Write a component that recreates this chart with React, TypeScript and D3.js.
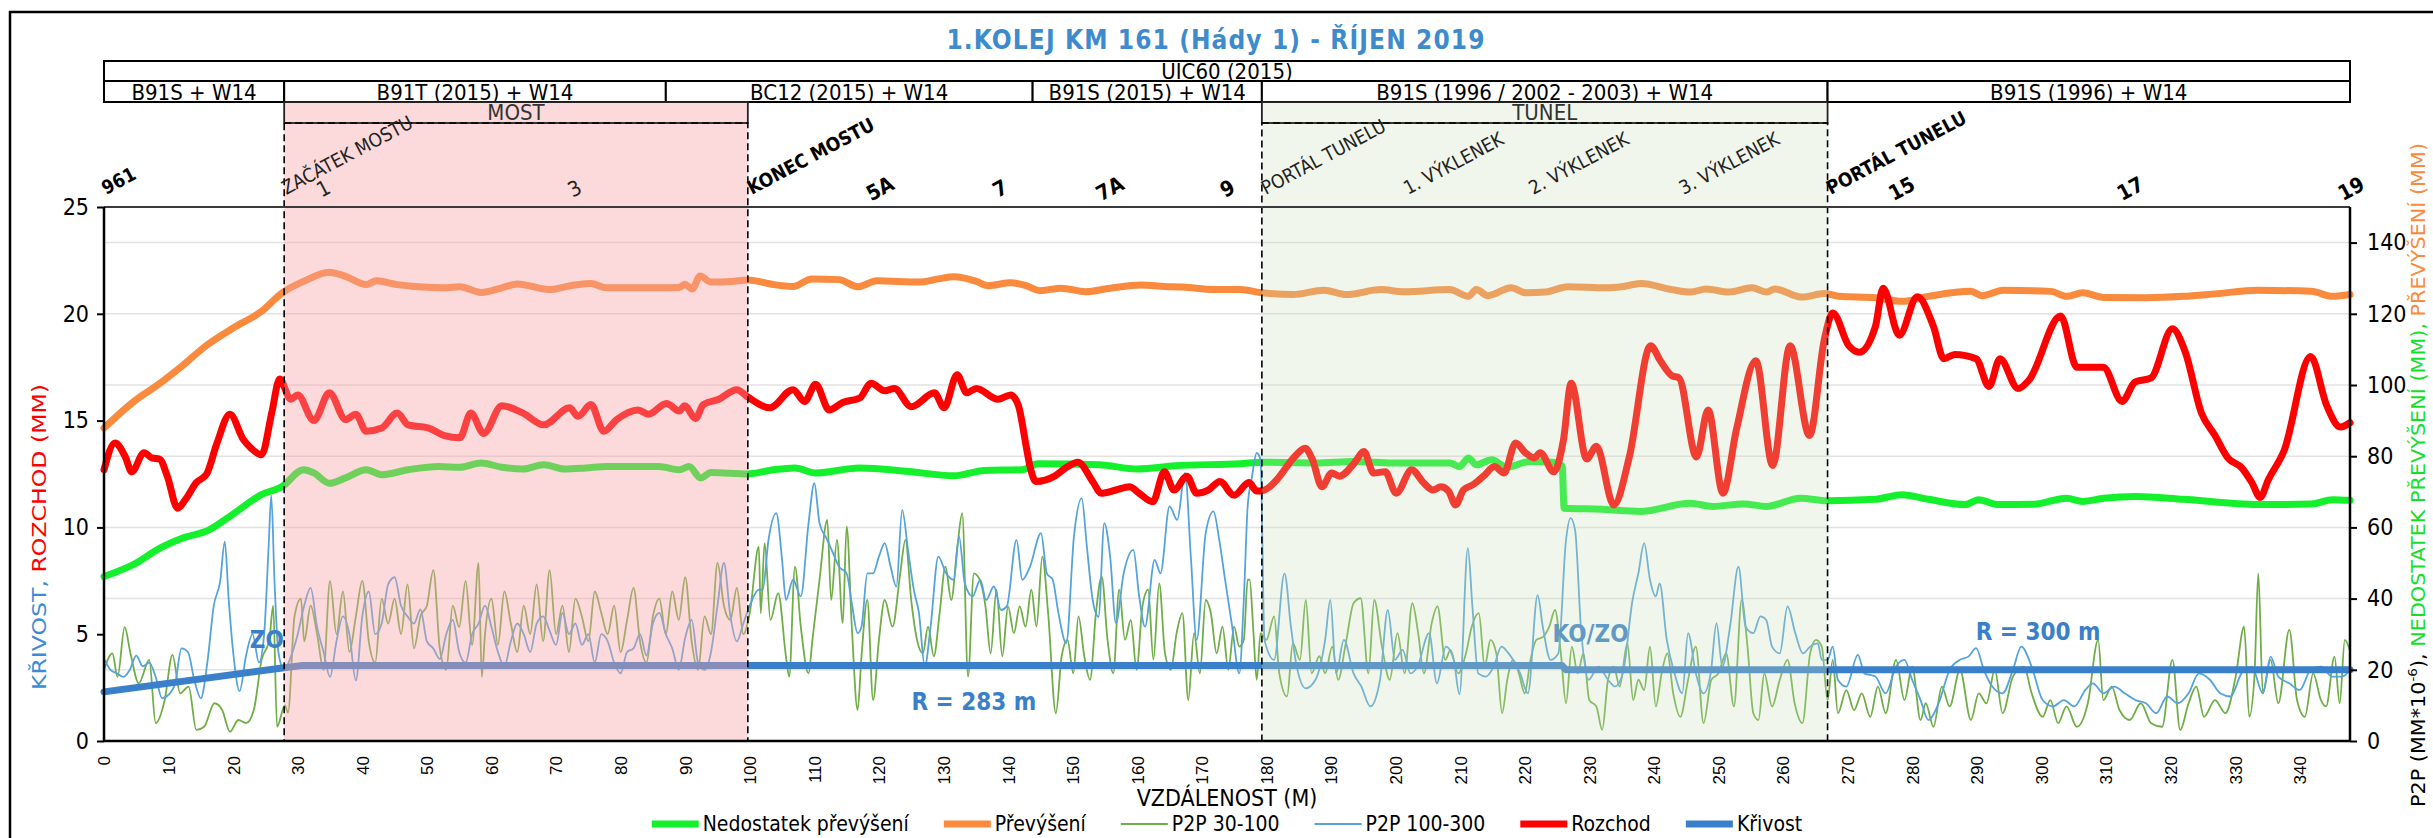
import React, { useEffect, useRef } from 'react';
import * as d3 from 'd3';

const W = 2433;
const H = 838;
const NARROW = "'Liberation Sans Narrow', 'DejaVu Sans Condensed', 'Arial Narrow', sans-serif";
const PLAIN = "'Liberation Sans', Arial, sans-serif";
const WIDE = "'DejaVu Sans', Verdana, sans-serif";

// ---- data (x in metres) ----
const prevyseni = [[0,87.9],[5,95.9],[8,99.6],[12,105.2],[16,111.3],[20,116],[24.4,120.7],[27.6,125.9],[30.9,129.1],[34.9,131.7],[37.3,130.6],[40.6,128.2],[42.2,129.3],[45.4,128.2],[48.7,127.6],[52.7,127.3],[55.1,127.6],[58.4,126],[61.6,127.3],[64,128.4],[68.9,126.8],[72.9,128.1],[75.4,128.5],[77.8,127.3],[81,127.3],[85.1,127.3],[89.1,127.4],[89.9,128.3],[91.1,127],[92.3,130.6],[94,128.9],[97.2,129.1],[99.7,129.5],[103.7,128.2],[106.7,127.7],[109.6,129.8],[113.8,129.6],[116.7,127.6],[119.7,129.3],[126.2,128.9],[129.2,129.8],[131.6,130.4],[135.1,129.1],[136.9,127.9],[140.4,128.7],[142.8,127.9],[144.9,126.5],[148.2,127.2],[152,126.2],[155.8,127.2],[160.6,128.1],[164.2,127.7],[167.1,127.5],[171.9,126.8],[175.9,126.8],[179.4,125.9],[184.1,125.4],[188.9,126.6],[192.4,125.4],[197.7,126.8],[201.3,126.2],[208.4,126.8],[211.3,124.9],[212.5,126.8],[214.3,125.1],[217.9,127.3],[220.2,125.9],[223.2,126.1],[226.7,127.6],[232.7,127.3],[235,127.6],[238,128.5],[242.8,126.8],[245.7,126.1],[248.1,127],[251.6,126.1],[255.2,127.3],[257.5,126.1],[258.7,127],[262.9,124.7],[266.4,125.7],[268.7,124.9],[274.3,124.5],[278.4,123.5],[282.5,124.9],[289.1,126.3],[290.8,125.1],[294.1,126.6],[301.5,126.3],[303.9,124.9],[306.4,125.9],[309.7,124.6],[316.3,124.5],[322,124.9],[326.9,125.6],[333.5,126.6],[341.8,126.3],[345.1,124.9],[347.8,125.4]];

const nedostatek = [[0,46.2],[5,50],[8.2,53.7],[12.2,57],[16.3,59.3],[19.5,63.1],[24.4,69.2],[27.6,71.5],[30.9,76.2],[32.5,75.3],[34.9,72.4],[37.4,73.9],[40.6,76.2],[43,74.8],[47.1,76.2],[51.9,77.1],[55.1,76.9],[58.4,78.1],[61.6,76.9],[64.9,76.4],[68.1,77.6],[71.3,76.4],[74.6,76.7],[77.8,77.1],[81,77.1],[85.9,77.1],[89.1,76.2],[90.6,77.1],[92.4,73.9],[94,75.4],[99.7,75],[103.7,76.2],[107,76.7],[110.2,75.3],[117,76.7],[124.6,75.7],[131.6,74.5],[136.3,76],[142.2,76.2],[144.6,77.9],[154.1,77.6],[160,76.4],[165.9,77.3],[175.9,77.9],[179.4,78.3],[187.7,78.1],[193.6,78.5],[199.5,78.1],[208.4,78.1],[209.9,77.1],[211.3,79.5],[212.5,77.6],[214.9,79],[217.2,76.9],[220.8,78.5],[224.3,78.3],[225.8,77.3],[226.1,65.4],[232,65.1],[237.9,64.5],[245.6,66.8],[249.1,65.9],[253.9,66.6],[257.4,65.9],[262.7,68.2],[266.9,67.5],[274.3,67.9],[278.4,69.2],[282.5,67.9],[288.2,66.4],[290.3,67.8],[293.2,66.4],[298.9,66.5],[303.9,68.2],[306.4,67.3],[309.7,68.2],[314.6,68.7],[322,67.9],[333.5,66.4],[341.8,66.6],[345.1,67.8],[347.8,67.6]];

const rozchod = [[0,12.7],[1.7,13.95],[3.3,13.3],[4.3,12.6],[6.2,13.5],[7.4,13.25],[8.6,13.2],[9.8,12.4],[11.4,10.9],[12.6,11.3],[14.3,12.1],[15.9,12.5],[17.5,13.95],[19.5,15.3],[21.6,14.1],[22.8,13.7],[24.4,13.4],[26,15.4],[27.2,16.95],[28.9,16],[30,16.2],[32.5,15],[34.9,16.3],[37.4,15.05],[39,15.3],[40.6,14.5],[43,14.65],[45.4,15.35],[47.1,14.8],[50.3,14.65],[52.7,14.3],[55.1,14.2],[56.8,15.35],[58.8,14.4],[61.6,15.7],[64.9,15.35],[68.1,14.8],[72.1,15.6],[73.4,15.2],[75.4,15.75],[77.4,14.5],[79.4,15.05],[82.7,15.5],[84.3,15.3],[87.1,15.8],[89.1,15.45],[89.9,15.7],[91.6,15.1],[92.8,15.75],[95.2,16],[98,16.45],[99.7,16.1],[103.1,15.6],[106.7,16.45],[108.5,15.9],[110.2,16.7],[112.3,15.5],[114.4,15.85],[117,16.05],[118.8,16.75],[120.9,16.4],[122.4,16.5],[125,15.65],[128.6,16.3],[130.1,15.6],[132.1,17.15],[133.6,16.3],[135.1,16.5],[138.4,16],[140.4,16.2],[141.6,15.7],[142.8,13.8],[143.4,12.85],[144.3,12.15],[147.2,12.4],[149,12.8],[150.8,13.05],[153.2,12.1],[154.4,11.6],[156.7,11.75],[158.8,11.9],[160.3,11.6],[162.4,11.2],[164.2,12.6],[165.7,11.75],[167.7,12.4],[169.2,11.6],[171,11.75],[172.8,12.15],[175,11.5],[177.3,12.1],[178.5,11.7],[179.7,11.75],[181.8,12.3],[184.2,13.25],[186,13.7],[187.1,13.2],[188.6,11.9],[190.1,12.55],[191.3,12.4],[193.6,13],[195.1,13.55],[196.6,12.55],[198.4,12.6],[200.1,11.6],[202.5,12.7],[204.3,12.1],[205.8,11.75],[207,11.9],[208.2,11.7],[209.3,11.05],[210.5,11.75],[212,12],[213.8,12.45],[215.3,12.85],[216.8,12.55],[218.6,13.95],[220.1,13.5],[221.5,13.25],[222.4,13.5],[224.5,12.6],[226,14.1],[227.2,16.75],[229.6,13.2],[231.1,13.8],[233.8,11.05],[236.2,13.3],[239.5,18.5],[241,17.8],[242.8,17.1],[243.9,17],[246.6,13.3],[248.4,15.5],[250.7,11.6],[252.8,14.6],[255.8,17.8],[258.4,12.9],[261.1,18.5],[264.1,14.3],[266.4,18.8],[267.7,20.04],[270.2,18.5],[271.8,18.2],[274.3,19.4],[275.5,21.2],[278,19],[280.8,20.8],[283.3,19.4],[284.9,17.9],[286.6,18.1],[289.9,17.9],[291.9,16.6],[293.6,17.9],[296.4,16.5],[298.1,16.9],[303,19.9],[305.5,17.5],[309.6,17.5],[312.5,15.9],[314.5,16.8],[317,17],[320.3,19.3],[322.3,18.2],[324.8,15.35],[326.9,14.3],[328.9,13.25],[331,12.8],[332.6,12.1],[333.9,11.4],[335.1,12.2],[337.6,13.6],[341.7,18],[344.2,15.7],[346.3,14.7],[347.8,14.9]];

const krivost = [[0,2.3],[27.6,3.42],[30.5,3.53],[225.8,3.53],[226.4,3.33],[347.8,3.33]];

const p2p100 = [[0,23],[1,20],[2,19],[3,18],[4,20],[5,24],[6,21],[7,22],[8,18],[9,12],[10,13],[11,16],[12,26],[13,25],[14,17],[15,12],[16,22],[17,38],[18,45],[18.7,56],[19.3,40],[20,25],[21,14],[22,24],[23,30],[24,22],[24.8,30],[25.5,55],[25.9,69],[26.4,45],[27,25],[27.9,20],
[29,24],[30,30],[31,38],[32,43],[33,32],[34,25],[35,18],[36,28],[37,35],[38,30],[39,17],[40,35],[41,42],[42,30],[43,33],[44,44],[45,46],[46,38],[47,35],[48,33],[49,37],[50,28],[51,26],[52,23],[53,30],[54,34],[55,25],[56,22],[57,30],[58,33],[59,38],[60,32],[61,25],[62,21],[63,28],[64,33],[65,30],[66,25],[67,33],[68,35],[69,31],[70,27],[71,36],[72,30],[73,33],[74,27],[75,30],[76,22],[77,30],[78,28],[79,22],[80,19],[81,25],[82,26],[83,30],[84,24],[85,33],[86,36],[87,30],[88,26],[89,20],[90,29],[91,34],[92,22],[93,20],[94,25],[95,38],[96,50],[97,35],[98,28],[99,33],[100,38],
[101.4,42.5],[102,42.5],[102.9,56.5],[104.1,64],[105,50.9],[105.6,39.6],[106.7,45.3],[107.9,40.6],[109.1,61.2],[110,72.4],[110.8,61.2],[112,56.5],[112.9,52.8],[113.8,49],[115,47.1],[115.8,38.7],[116.7,30.3],[117.3,32.1],[118.2,47.1],[119.1,47.1],[120,51.8],[120.9,55.6],[121.8,49],[122.7,43.4],[123.6,64.9],[124.5,53.7],[125.4,42.5],[126.2,35.9],[127.1,20.9],[128,32.1],[129.2,51.8],[130.4,47.1],[131.6,45.3],[132.4,57.5],[133.3,44.3],[134.5,40.6],[135.7,45.3],[136.6,39.6],[137.8,43.4],[138.9,36.8],[139.8,37.8],[141.3,56.5],[142.2,45.3],[143.4,49],[145.1,58.4],[146,47.1],[146.9,45.3],[147.8,35.9],[149,27.5],[150.2,57.5],[151.4,68.2],[152.2,54.6],[153.1,39.6],[154,34.9],[154.9,61.2],[155.8,51.8],[156.7,33.1],[157.9,47.1],[159.4,53.7],[160.3,40.6],[161.2,32.1],[162.7,50.9],[163.6,47.1],[165,65.9],[166.2,62.1],[167.4,75.3],[168.3,51.8],[169.2,28.4],[170.6,58.4],[171.8,64.5],[172.7,56.5],[173.6,45.3],[174.7,32.1],[175.8,19],
[176.5,39.6],[177.1,65.9],[177.7,73.4],[178.5,80.9],[179.1,79],[179.7,28.4],[181.2,22.8],[182.8,47.1],[183.8,32.1],[184.7,20.9],[186.1,14.8],[187.6,17.2],[189.1,28.4],[189.9,39.6],[190.8,19],[192,28.4],[193.5,19],[194.7,15.3],[196.1,9.7],[197.6,17.2],[198.8,36.8],[199.9,22.8],[201.1,25.6],[202.3,19],[203.4,20.9],[205.2,30.3],[206.4,16.2],[207.8,26.5],[209,22.8],[209.9,13.1],[211.2,54.2],[211.9,37.8],[212.8,19],[214,18.1],[215.2,20.9],[216.4,26.5],[217.5,24.6],[219.3,19],[220.5,13.4],[222,41],[222.8,32.1],[224,22.8],[225.2,24.6],[226.4,56.5],[227.1,62.6],[227.8,59.3],[228.7,32.1],[229.9,17.2],[231.4,20.9],[232.9,17.2],[234,15.3],[235.2,19],[236.7,39.6],[237.6,47.1],[238.5,55.6],[239.4,45.3],[240.3,40.6],[240.9,44.3],[242,28.4],[243.2,19],[244.4,13.4],[245.3,30.3],[246.5,19],[247.7,13.4],[248.8,19],[249.7,33.1],[250.6,20.9],[251.8,32.1],[253.1,49],[254.2,32.1],[255.4,30.3],[256.5,35],[257.4,34],[258.3,26.5],[259.5,24.6],[260.7,37.8],[261.9,30.3],[263.1,24.6],[264.2,26.5],[265.4,27.4],[266,22.8],
[266.9,22.8],[267.7,26.5],[268.5,17.2],[269.8,15.3],[271.6,24.2],[272.6,19],[274.3,18.1],[275.9,13.4],[277.5,20.9],[278.8,22.8],[280,17.2],[281.3,11.5],[282.5,5.9],[284.1,10.6],[285.8,20],[287.4,22.8],[288.7,23.7],[289.9,26.1],[291.1,20],[292.4,15.3],[294,13.4],[295.6,20],[296.9,26.5],[298.5,20.9],[300.2,11.5],[301.8,9.7],[303.5,11.5],[305.1,9.7],[306.8,14.3],[308,16.2],[309.6,13.4],[311.3,15.3],[312.9,13.4],[314.6,11.5],[316.2,10.6],[317.8,7.8],[319.5,12.5],[321.1,10.6],[322.8,13.4],[324.4,19],[326.1,17.2],[327.7,13.4],[329.3,12.5],[331,19],[332.6,20.9],[334.3,13.4],[335.5,23.7],[336.7,18.1],[338.4,16.2],[340,14.3],[341.7,20],[343.3,20.9],[345,18.1],[346.6,18.1],[347.8,20]];

const p2p30 = [[0,20],[1.3,24.6],[2.1,18],[3.2,32],[4.1,24.6],[5.4,16.2],[7,22.8],[8,5],[9.4,11.5],[10.6,24.2],[11.8,13.4],[13.1,15.3],[14.3,3.1],[15.5,4],[17.1,10.6],[18.3,8.7],[19.5,2.6],[20.8,5.9],[22,5],[23.2,8.7],[24.4,22.8],[25.6,28.4],[26.2,38],[26.8,4],
[28,10],[28.5,8],[29.5,35],[30.5,40],[31,28],[32,38],[33,30],[34,20],[35,45],[36,30],[37,42],[38,25],[39,35],[40,45],[41,28],[42,22],[43,40],[44,33],[45,40],[46,30],[47,44],[48,26],[49,35],[50,38],[51,48],[52,26],[53,20],[54,38],[55,32],[56,45],[57,27],[58,50],[58.5,18],[59,30],[60,40],[61,27],[62,42],[63,33],[64,25],[65,38],[66,30],[67,44],[68,28],[69,48],[70,30],[71,38],[72,25],[73,40],[74,35],[75,28],[76,42],[77,36],[78,30],[79,38],[80,25],[81,34],[82,43],[83,28],[84,22],[85,35],[86,40],[87,30],[88,42],[89,34],[90,46],[91,28],[92,20],[93,35],[94,30],[95,50],[96,38],[97,34],[98,43],[99,30],[100,36],
[101.4,54.6],[101.7,35.9],[102.3,55.6],[103.2,34],[104.4,41.5],[105.6,23.8],[106.1,18.1],[107,49],[107.9,32.1],[109.1,19],[109.7,28.4],[110.8,45.3],[112,62.1],[112.6,39.6],[113.5,56.5],[114.4,33.1],[115,60.3],[115.8,32.1],[116.7,8.7],[117.3,23.8],[118.2,39.6],[119.1,11.5],[120,28.4],[120.9,39.6],[122.1,32.1],[123.3,47.1],[124.1,56.5],[125,39.6],[125.9,28.4],[126.8,24.6],[127.6,32.1],[128.5,23.8],[129.4,35.9],[130.3,49],[131.2,39.6],[132.1,53.7],[132.9,64],[133.8,18.1],[134.7,47.1],[135.6,45.3],[136.5,37.8],[137.3,24.6],[138.2,42.5],[139.1,23.8],[140,37.8],[140.9,30.3],[141.8,37.8],[142.7,32.1],[143.6,42.5],[144.4,32.1],[145.3,51.8],[146.2,35.9],[147.4,7.8],[148.3,23.8],[149.2,28.4],[150.1,19],[150.9,35],[151.8,23.8],[152.7,17.2],[153.6,35.9],[154.5,46.2],[155.4,28.4],[156.3,19],[157.2,42.5],[158.1,28.4],[159,34],[159.9,20],[160.8,37.8],[161.7,42.5],[162.5,22.8],[163.4,44.3],[164.3,24.6],[165.2,20],[166.1,30.3],[167,35.9],[167.9,11.5],[168.8,30.3],[169.7,19],[170.6,39.6],[171.4,35.9],[172.3,24.6],[173.2,32.1],[174.1,20],[175,32.1],[175.8,26.5],
[176.5,28.4],[177.1,45.3],[177.4,45.3],[178,30.3],[178.5,17.2],[179.1,30.3],[180,28.4],[181.2,35],[182,19],[183.2,12.5],[184.1,27.5],[185.2,22.8],[186.1,39.6],[187,19],[188.2,23.8],[189.1,19],[190.2,26.5],[191.1,17.2],[192.3,27.5],[193.5,38.7],[194.6,40.1],[195.8,19],[196.7,39.6],[197.9,26.5],[199.1,17.2],[200.3,30.3],[201.4,19],[202.6,38.7],[203.5,30.3],[204.4,19],[205.6,33.1],[206.5,37.8],[207.7,22.8],[208.5,25.6],[209.7,19],[210.9,24.6],[211.8,32.1],[212.9,35.9],[213.8,20.9],[214.7,28.4],[215.6,24.6],[216.5,7.8],[217.3,17.2],[218.2,22.8],[219.1,19],[220,13.4],[220.9,22.8],[221.8,28.4],[222.9,29.3],[223.8,32.1],[224.7,36.8],[225.6,24.6],[226.4,10.6],[227.3,26.5],[228.2,19],[229.1,24.6],[230,11.5],[231.1,9.7],[232,3.1],[232.9,17.2],[233.8,20.9],[234.7,15.3],[235.9,27.5],[236.8,11.5],[237.6,17.2],[238.5,14.3],[239.4,26.5],[240.3,9.7],[241.2,19],[242.1,24.6],[243,13.4],[244.1,6.8],[245.3,17.2],[246.5,26.5],[247.7,5],[248.9,17.2],[250,19],[251.2,24.6],[252.4,9.7],[253.6,39.6],[254.5,26.5],[255.4,7.8],[256.2,5.9],[257.1,19],[258.3,9.7],[259.5,17.2],[260.7,22.8],[261.8,10.6],[263,5],[264.2,24.6],[265.1,28.4],[266,26.5],
[266.9,11.5],[267.7,22.8],[268.5,7.8],[269.8,14.3],[271,8.7],[272.2,13.4],[273.5,6.8],[274.7,15.3],[275.9,7.8],[277.5,22.8],[278.8,11.5],[280,20.9],[281.3,5.9],[282.1,10.6],[283.3,4],[284.6,15.3],[285.8,9.7],[287.4,20],[289.1,5.9],[290.3,13.4],[291.5,10.6],[292.8,20],[294,7.8],[295.6,18.1],[297.3,20.9],[298.5,13.4],[300.2,6.8],[301.4,11.5],[302.6,5],[303.9,9.7],[305.5,4],[307.2,10.6],[308.8,28.4],[309.6,11.5],[310.9,15.3],[312.1,8.7],[313.7,5.9],[315.4,10.6],[317,5],[318.7,4],[320.3,22.8],[321.5,3.1],[322.8,10.6],[324,15.3],[325.2,6.8],[326.9,11.5],[328.5,7.8],[330.1,18.1],[331.4,32.1],[332.2,6.8],[333,18.1],[333.6,47.1],[334.3,13.4],[335.5,22.8],[336.7,10.6],[338.4,31.2],[339.6,11.5],[340.8,6.8],[342.1,19],[343.3,11.5],[344.1,9.7],[345.4,23.7],[346.2,10.6],[347,28.4],[347.8,25.3]];

const sleepers = [
  { from: 0, to: 27.9, label: 'B91S + W14' },
  { from: 27.9, to: 87, label: 'B91T (2015) + W14' },
  { from: 87, to: 143.8, label: 'BC12 (2015) + W14' },
  { from: 143.8, to: 179.3, label: 'B91S (2015) + W14' },
  { from: 179.3, to: 266.9, label: 'B91S (1996 / 2002 - 2003) + W14' },
  { from: 266.9, to: 347.8, label: 'B91S (1996) + W14' },
];
const railLabel = 'UIC60 (2015)';

const structures = [
  { from: 27.9, to: 99.7, label: 'MOST', fill: '#f7a3a6', opacity: 0.4 },
  { from: 179.3, to: 266.9, label: 'TUNEL', fill: '#c9ddb8', opacity: 0.28 },
];

const milestones = [
  { m: 0, text: '961', bold: true, anchor: 'start' },
  { m: 27.9, text: 'ZAČÁTEK MOSTU', bold: false, anchor: 'start' },
  { m: 34.5, text: '1', bold: false, anchor: 'middle' },
  { m: 73.4, text: '3', bold: false, anchor: 'middle' },
  { m: 100, text: 'KONEC MOSTU', bold: true, anchor: 'start' },
  { m: 120.7, text: '5A', bold: true, anchor: 'middle' },
  { m: 139.3, text: '7', bold: true, anchor: 'middle' },
  { m: 156.3, text: '7A', bold: true, anchor: 'middle' },
  { m: 174.5, text: '9', bold: true, anchor: 'middle' },
  { m: 179.6, text: 'PORTÁL TUNELU', bold: false, anchor: 'start' },
  { m: 201.6, text: '1. VÝKLENEK', bold: false, anchor: 'start' },
  { m: 221, text: '2. VÝKLENEK', bold: false, anchor: 'start' },
  { m: 244.3, text: '3. VÝKLENEK', bold: false, anchor: 'start' },
  { m: 267.1, text: 'PORTÁL TUNELU', bold: true, anchor: 'start' },
  { m: 278.9, text: '15', bold: true, anchor: 'middle' },
  { m: 314.3, text: '17', bold: true, anchor: 'middle' },
  { m: 348.5, text: '19', bold: true, anchor: 'middle' },
];

const curveNotes = [
  { m: 25.2, v: 4.73, text: 'ZO' },
  { m: 134.7, v: 1.84, text: 'R = 283 m' },
  { m: 230.2, v: 5.05, text: 'KO/ZO' },
  { m: 299.5, v: 5.12, text: 'R = 300 m' },
];

const xTicks = d3.range(0, 341, 10);
const leftTicks = [0, 5, 10, 15, 20, 25];
const rightTicks = [0, 20, 40, 60, 80, 100, 120, 140];

const series = [
  { key: 'ned', name: 'Nedostatek převýšení', data: nedostatek, axis: 'right', color: '#14f02c', width: 7, curve: 'smooth' },
  { key: 'pre', name: 'Převýšení', data: prevyseni, axis: 'right', color: '#f98a3e', width: 7, curve: 'smooth' },
  { key: 'p30', name: 'P2P 30-100', data: p2p30, axis: 'right', color: '#70ad47', width: 1.8, curve: 'smooth' },
  { key: 'p100', name: 'P2P 100-300', data: p2p100, axis: 'right', color: '#55a3dc', width: 1.8, curve: 'smooth' },
  { key: 'roz', name: 'Rozchod', data: rozchod, axis: 'left', color: '#ff0000', width: 7, curve: 'smooth' },
  { key: 'kri', name: 'Křivost', data: krivost, axis: 'left', color: '#3a7fc9', width: 7, curve: 'linear' },
];

const TITLE_BLUE = '#3d8bcd';

function App() {
  const ref = useRef<SVGSVGElement>(null);

  useEffect(() => {
    document.body.style.margin = '0';
    const svg = d3.select(ref.current);
    svg.selectAll('*').remove();

    const left = 104, right = 2350, top = 207, bottom = 741;
    const x = d3.scaleLinear().domain([0, 347.8]).range([left, right]);
    const yL = d3.scaleLinear().domain([0, 25]).range([bottom, top]);
    const yR = d3.scaleLinear().domain([0, 150]).range([bottom, top]);

    svg.append('rect').attr('width', W).attr('height', H).attr('fill', '#fff');

    // outer frame
    svg.append('rect').attr('x', 10).attr('y', 12).attr('width', W + 20).attr('height', H + 20)
      .attr('fill', 'none').attr('stroke', '#000').attr('stroke-width', 2.5);

    // title
    svg.append('text').attr('x', 1216).attr('y', 49).attr('text-anchor', 'middle')
      .attr('font-family', NARROW).attr('font-weight', 'bold').attr('font-size', 26)
      .attr('letter-spacing', 1.1).attr('fill', TITLE_BLUE)
      .text('1.KOLEJ KM 161 (Hády 1) - ŘÍJEN 2019');

    // header table
    const hdr = svg.append('g');
    hdr.append('rect').attr('x', left).attr('y', 61).attr('width', right - left).attr('height', 20)
      .attr('fill', '#fff').attr('stroke', '#000').attr('stroke-width', 2);
    hdr.append('text').attr('x', (left + right) / 2).attr('y', 79).attr('text-anchor', 'middle')
      .attr('font-family', NARROW).attr('font-size', 22).text(railLabel);
    const cells = hdr.selectAll('g.cell').data(sleepers).enter().append('g');
    cells.append('rect').attr('x', d => x(d.from)).attr('y', 81).attr('width', d => x(d.to) - x(d.from)).attr('height', 21)
      .attr('fill', '#fff').attr('stroke', '#000').attr('stroke-width', 2);
    cells.append('text').attr('x', d => (x(d.from) + x(d.to)) / 2).attr('y', 99.5).attr('text-anchor', 'middle')
      .attr('font-family', NARROW).attr('font-size', 22).text(d => d.label);

    // gridlines (right axis)
    svg.append('g').selectAll('line').data(rightTicks.filter(t => t > 0)).enter().append('line')
      .attr('x1', left).attr('x2', right).attr('y1', d => yR(d)).attr('y2', d => yR(d))
      .attr('stroke', '#e2e2e2').attr('stroke-width', 1.5);

    // series
    const plot = svg.append('g');
    series.forEach(s => {
      const yS = s.axis === 'left' ? yL : yR;
      const line = d3.line<number[]>()
        .x(d => x(d[0])).y(d => yS(d[1]))
        .curve(s.curve === 'linear' ? d3.curveLinear : d3.curveMonotoneX);
      plot.append('path').datum(s.data).attr('d', line)
        .attr('fill', 'none').attr('stroke', s.color).attr('stroke-width', s.width)
        .attr('stroke-linejoin', 'round').attr('stroke-linecap', 'round');
    });

    // curve annotations
    svg.append('g').selectAll('text').data(curveNotes).enter().append('text')
      .attr('x', d => x(d.m)).attr('y', d => yL(d.v)).attr('dy', '0.35em').attr('text-anchor', 'middle')
      .attr('font-family', NARROW).attr('font-weight', 'bold').attr('font-size', 24)
      .attr('fill', '#3a7fc9').text(d => d.text);

    // structure overlays
    const st = svg.append('g');
    st.selectAll('rect.fill').data(structures).enter().append('rect')
      .attr('x', d => x(d.from)).attr('y', 102).attr('width', d => x(d.to) - x(d.from)).attr('height', bottom - 102)
      .attr('fill', d => d.fill).attr('fill-opacity', d => d.opacity);
    st.selectAll('rect.box').data(structures).enter().append('rect')
      .attr('x', d => x(d.from)).attr('y', 102).attr('width', d => x(d.to) - x(d.from)).attr('height', 21)
      .attr('fill', 'none').attr('stroke', '#222').attr('stroke-width', 1.8);
    st.selectAll('text').data(structures).enter().append('text')
      .attr('x', d => (x(d.from) + x(d.to)) / 2).attr('y', 120).attr('text-anchor', 'middle')
      .attr('font-family', NARROW).attr('font-size', 22).attr('fill', '#333').text(d => d.label);
    st.selectAll('rect.dash').data(structures).enter().append('rect')
      .attr('x', d => x(d.from)).attr('y', 123).attr('width', d => x(d.to) - x(d.from)).attr('height', bottom - 123)
      .attr('fill', 'none').attr('stroke', '#000').attr('stroke-width', 1.6).attr('stroke-dasharray', '7,4');

    // plot frame and axes
    svg.append('line').attr('x1', left).attr('x2', right).attr('y1', top).attr('y2', top)
      .attr('stroke', '#3a3a3a').attr('stroke-width', 1.8);

    const axL = d3.axisLeft(yL).tickValues(leftTicks).tickSize(7).tickPadding(8);
    const gL = svg.append('g').attr('transform', `translate(${left},0)`).call(axL);
    const axR = d3.axisRight(yR).tickValues(rightTicks).tickSize(7).tickPadding(10);
    const gR = svg.append('g').attr('transform', `translate(${right},0)`).call(axR);
    [gL, gR].forEach(g => {
      g.select('.domain').attr('stroke', '#000').attr('stroke-width', 2.5);
      g.selectAll('.tick line').attr('stroke', '#000').attr('stroke-width', 2);
      g.selectAll('.tick text').attr('font-family', NARROW).attr('font-size', 23).attr('fill', '#000');
    });
    gL.select('.domain').attr('d', `M0,${top}V${bottom}`);
    gR.select('.domain').attr('d', `M0,${top}V${bottom}`);

    const axB = d3.axisBottom(x).tickValues(xTicks).tickSize(0).tickPadding(0);
    const gB = svg.append('g').attr('transform', `translate(0,${bottom})`).call(axB);
    gB.select('.domain').attr('d', `M${left},0H${right}`).attr('stroke', '#000').attr('stroke-width', 2.5);
    gB.selectAll('.tick text')
      .attr('font-family', PLAIN).attr('font-size', 17).attr('fill', '#000')
      .attr('transform', 'rotate(-90)').attr('text-anchor', 'end')
      .attr('x', -15).attr('y', 0).attr('dy', '0.35em');

    // milestones
    svg.append('g').selectAll('text').data(milestones).enter().append('text')
      .attr('transform', d => `translate(${x(d.m) + (d.anchor === 'start' ? 2 : 0)},195) rotate(-28)`)
      .attr('text-anchor', d => d.anchor)
      .attr('font-family', NARROW).attr('font-size', d => (d.anchor === 'start' ? 19 : 21))
      .attr('font-weight', d => (d.bold ? 'bold' : 'normal'))
      .attr('fill', d => (d.bold ? '#000' : '#222'))
      .text(d => d.text);

    // x axis title
    svg.append('text').attr('x', (left + right) / 2).attr('y', 806).attr('text-anchor', 'middle')
      .attr('font-family', NARROW).attr('font-size', 23).text('VZDÁLENOST (M)');

    // left axis title
    const tl = svg.append('text').attr('transform', 'translate(46,537) rotate(-90)').attr('text-anchor', 'middle')
      .attr('font-family', WIDE).attr('font-size', 20);
    tl.append('tspan').attr('fill', '#3d8bd6').text('KŘIVOST, ');
    tl.append('tspan').attr('fill', '#ff0000').text('ROZCHOD (MM)');
    tl.attr('textLength', 306).attr('lengthAdjust', 'spacingAndGlyphs');

    // right axis title
    const tr = svg.append('text').attr('transform', 'translate(2425,475) rotate(-90)').attr('text-anchor', 'middle')
      .attr('font-family', WIDE).attr('font-size', 20);
    tr.append('tspan').attr('fill', '#000').text('P2P (MM*10');
    tr.append('tspan').attr('fill', '#000').attr('font-size', 13).attr('dy', -8).text('-6');
    tr.append('tspan').attr('fill', '#000').attr('dy', 8).text('), ');
    tr.append('tspan').attr('fill', '#14e02c').text('NEDOSTATEK PŘEVÝŠENÍ (MM), ');
    tr.append('tspan').attr('fill', '#f98a3e').text('PŘEVÝŠENÍ (MM)');
    tr.attr('textLength', 664).attr('lengthAdjust', 'spacingAndGlyphs');

    // legend, centred under the plot
    const lg = svg.append('g');
    const items = lg.selectAll('g').data(series).enter().append('g');
    items.append('line').attr('x1', 0).attr('x2', 47).attr('y1', 0).attr('y2', 0)
      .attr('stroke', d => d.color).attr('stroke-width', d => (d.width > 3 ? 7 : 2.2));
    items.append('text').attr('x', 51).attr('y', 0).attr('dy', '0.35em')
      .attr('font-family', NARROW).attr('font-size', 21).text(d => d.name);
    let cursor = 0;
    const offsets: number[] = [];
    items.each(function () {
      offsets.push(cursor);
      const t = d3.select(this).select('text').node() as SVGTextElement;
      cursor += 51 + t.getComputedTextLength() + 35;
    });
    const total = cursor - 35;
    const start = (left + right) / 2 - total / 2;
    items.attr('transform', (_d, i) => `translate(${start + offsets[i]},824)`);
  }, []);

  return <svg ref={ref} width={W} height={H} style={{ display: 'block' }} />;
}

export default App;
